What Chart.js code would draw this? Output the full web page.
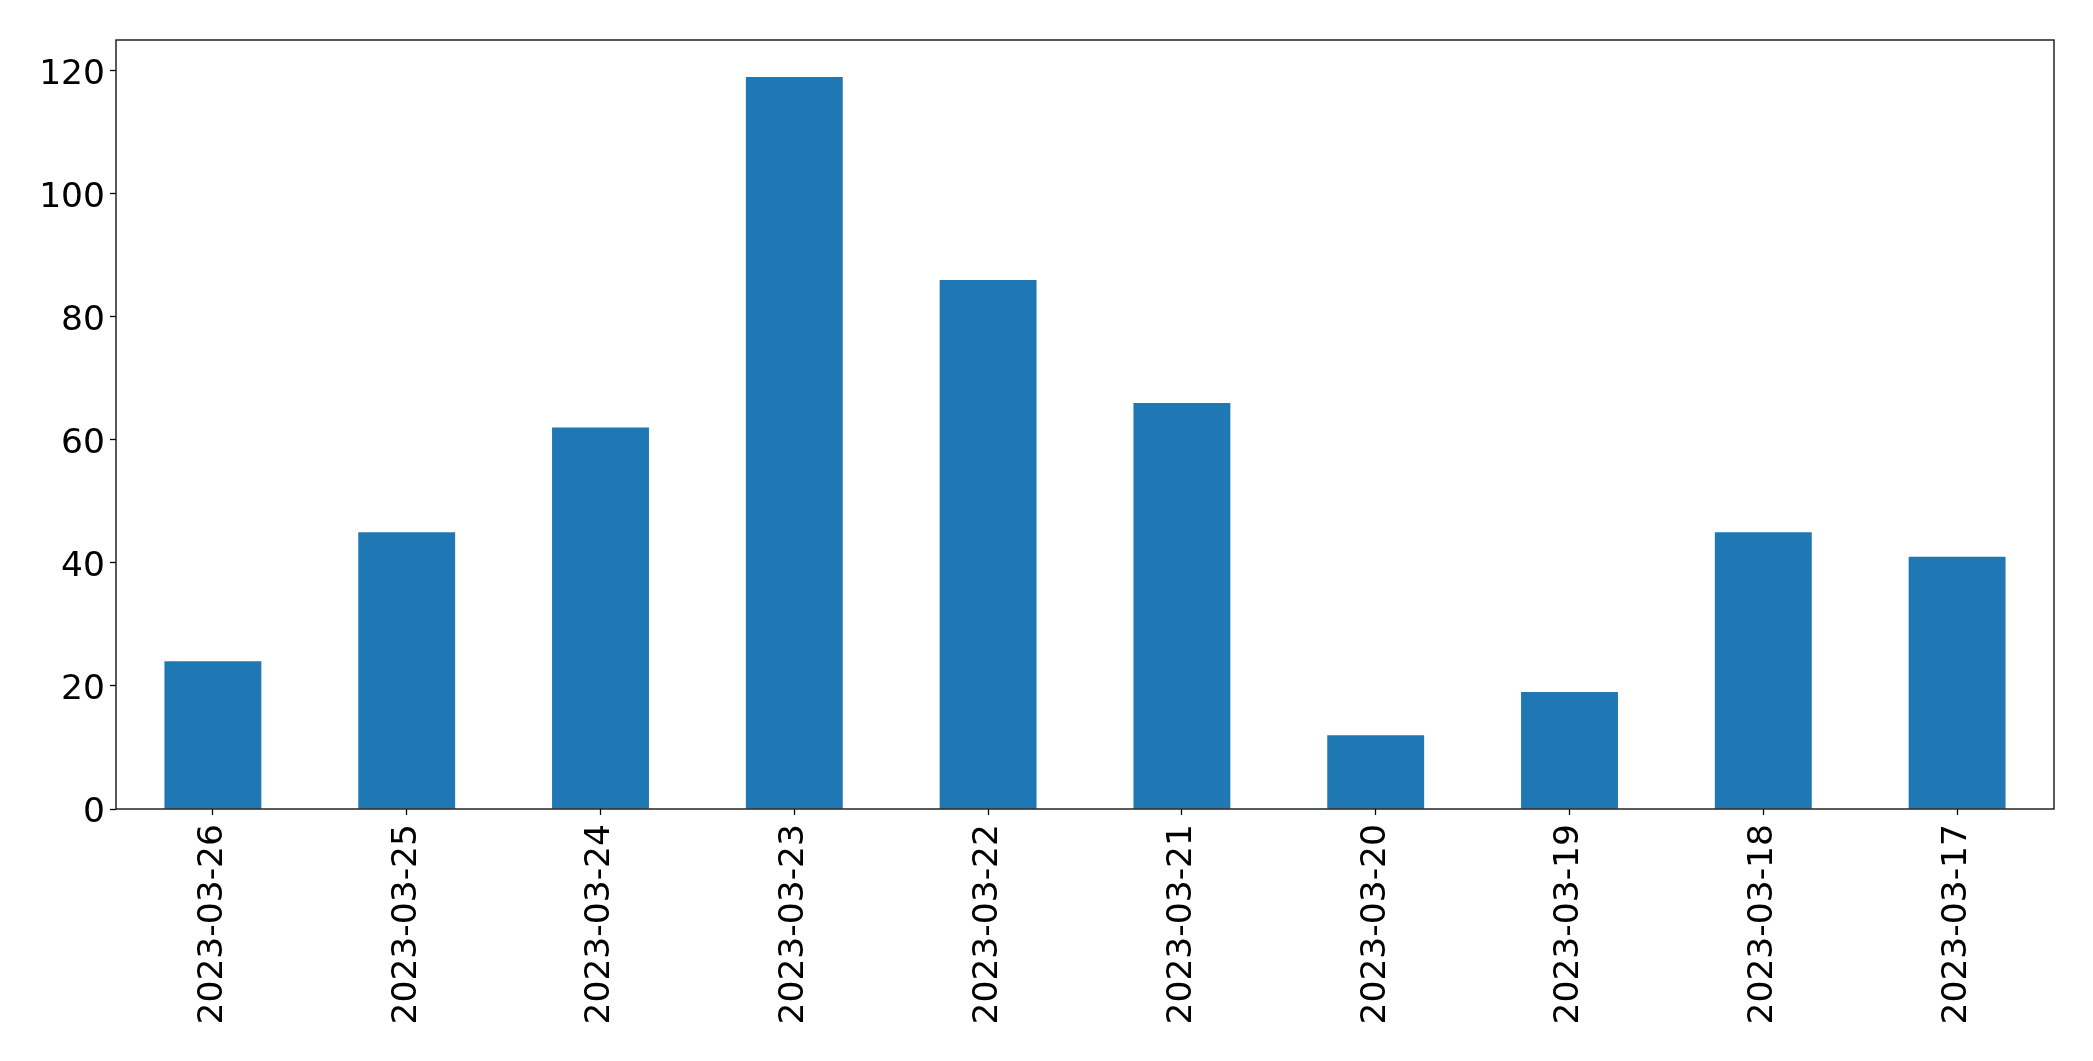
<!DOCTYPE html>
<html>
<head>
<meta charset="utf-8">
<script src="https://cdn.jsdelivr.net/npm/chart.js@4/dist/chart.umd.min.js"></script>
<style>
  html, body { margin: 0; padding: 0; background: #fff; }
  #wrap { width: 2093px; height: 1061px; }
</style>
</head>
<body>
<div id="wrap"><canvas id="c"></canvas></div>
<script>
const dates = ['2023-03-26', '2023-03-25', '2023-03-24', '2023-03-23', '2023-03-22',
  '2023-03-21', '2023-03-20', '2023-03-19', '2023-03-18', '2023-03-17']
const counts = [24, 45, 62, 119, 86, 66, 12, 19, 45, 41]
const yTicks = [0, 20, 40, 60, 80, 100, 120]

// draws the box round the plot area, like matplotlib's spines
const frame = {
  id: 'frame',
  afterDraw(chart) {
    const { ctx, chartArea: a } = chart
    ctx.save()
    ctx.strokeStyle = '#000'
    ctx.lineWidth = 1.3
    ctx.strokeRect(a.left, a.top, a.right - a.left, a.bottom - a.top)
    ctx.restore()
  }
}

const font = { family: 'DejaVu Sans', size: 34.5 }

new Chart(document.getElementById('c'), {
  type: 'bar',
  data: {
    labels: dates,
    datasets: [{
      data: counts,
      backgroundColor: '#1f77b4',
      barPercentage: 0.5,
      categoryPercentage: 1
    }]
  },
  options: {
    responsive: true,
    maintainAspectRatio: false,
    animation: false,
    layout: { padding: { top: 40, right: 39, left: 0, bottom: 0 } },
    plugins: { legend: { display: false }, tooltip: { enabled: false } },
    scales: {
      x: {
        offset: true,
        grid: { display: true, drawOnChartArea: false, offset: false, tickLength: 6, tickColor: '#000', tickWidth: 1.3 },
        border: { display: false },
        ticks: { color: '#000', font, maxRotation: 90, minRotation: 90, padding: 9 },
        afterFit(scale) { scale.height = 252 }
      },
      y: {
        min: 0,
        max: 125,
        grid: { display: true, drawOnChartArea: false, tickLength: 6, tickColor: '#000', tickWidth: 1.3 },
        border: { display: false },
        ticks: { color: '#000', font, padding: 5, labelOffset: 4 },
        afterBuildTicks(scale) { scale.ticks = yTicks.map(v => ({ value: v })) },
        afterFit(scale) { scale.width = 116 }
      }
    }
  },
  plugins: [frame]
})
</script>
</body>
</html>
